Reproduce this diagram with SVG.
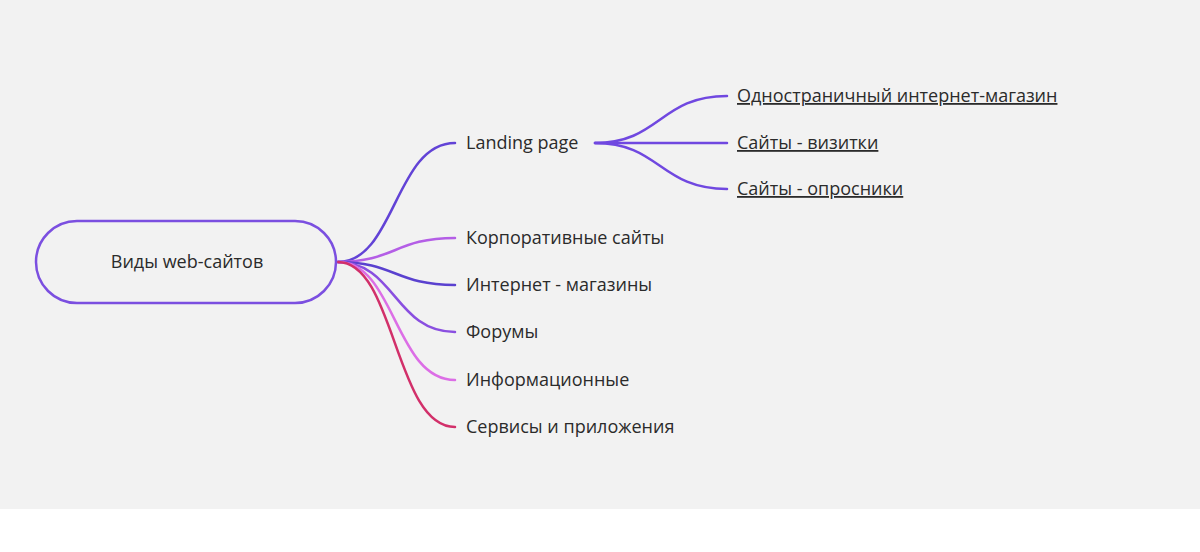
<svg xmlns="http://www.w3.org/2000/svg" width="1200" height="552" viewBox="0 0 1200 552">
<style>
text{font-family:"Open Sans","Noto Sans",sans-serif;font-size:18px;fill:#2b2b2b}
.u{text-decoration:underline}
path{fill:none;stroke-width:2.5;stroke-linecap:round}
</style>
<rect width="1200" height="552" fill="#fff"/>
<rect width="1200" height="509" fill="#f2f2f2"/>
<g id="connectors">
<path d="M338 262 C395 262 395 143 455 143" stroke="#6243d6"/>
<path d="M338 262 C395 262 395 238 455 238" stroke="#b45ee6"/>
<path d="M338 262 C395 262 395 285 455 285" stroke="#5a41cf"/>
<path d="M338 262 C395 262 395 332 455 332" stroke="#8a4fe0"/>
<path d="M338 262 C395 262 395 380 455 380" stroke="#dc6ee6"/>
<path d="M338 262 C395 262 395 427 455 427" stroke="#d2306a"/>
<path d="M595 143 C660 143 660 96 727 96" stroke="#7048e0"/>
<path d="M595 143 L727 143" stroke="#7048e0"/>
<path d="M595 143 C660 143 660 189 727 189" stroke="#7048e0"/>
</g>
<g id="root"><rect x="36" y="221" width="300" height="82" rx="41" fill="#f2f2f2" stroke="#7b4fe0" stroke-width="2.5"/><text x="187" y="268" text-anchor="middle">Виды web-сайтов</text></g>
<g id="n1"><text x="466" y="149">Landing page</text></g>
<g id="n2"><text x="466" y="244">Корпоративные сайты</text></g>
<g id="n3"><text x="466" y="291">Интернет - магазины</text></g>
<g id="n4"><text x="466" y="338">Форумы</text></g>
<g id="n5"><text x="466" y="386">Информационные</text></g>
<g id="n6"><text x="466" y="433">Сервисы и приложения</text></g>
<g id="s1"><text class="u" x="737" y="102">Одностраничный интернет-магазин</text></g>
<g id="s2"><text class="u" x="737" y="149">Сайты - визитки</text></g>
<g id="s3"><text class="u" x="737" y="195">Сайты - опросники</text></g>
</svg>
